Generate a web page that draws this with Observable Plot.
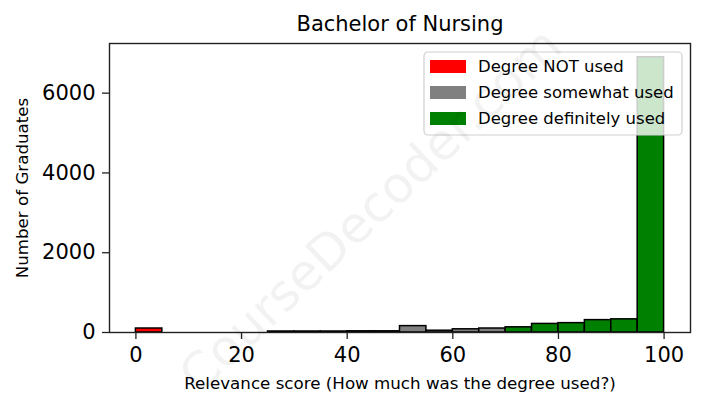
<!DOCTYPE html>
<html><head><meta charset="utf-8">
<script src="https://cdn.jsdelivr.net/npm/d3@7"></script>
<script src="https://cdn.jsdelivr.net/npm/@observablehq/plot@0.6"></script>
<style>body{margin:0;background:#fff} svg{font-family:"DejaVu Sans"}</style>
</head><body><div id="chart"></div>
<script>
const binStarts = [0,5,10,15,20,25,30,35,40,45,50,55,60,65,70,75,80,85,90,95];
const binWidth = 5;
const counts = [100,0,0,0,0,25,25,25,30,30,160,45,80,100,130,215,235,310,330,6900];
const binCategory = ["Degree NOT used","Degree NOT used","Degree NOT used","Degree NOT used","Degree NOT used",
  "Degree somewhat used","Degree somewhat used","Degree somewhat used","Degree somewhat used","Degree somewhat used",
  "Degree somewhat used","Degree somewhat used","Degree somewhat used","Degree somewhat used",
  "Degree definitely used","Degree definitely used","Degree definitely used","Degree definitely used","Degree definitely used","Degree definitely used"];
const seriesNames = ["Degree NOT used","Degree somewhat used","Degree definitely used"];
const seriesColors = ["#ff0000","#808080","#008000"];
const xTicks = [0,20,40,60,80,100];
const yTicks = [0,2000,4000,6000];
const titleText = "Bachelor of Nursing";
const xLabel = "Relevance score (How much was the degree used?)";
const yLabel = "Number of Graduates";
const watermark = "CourseDecoder.com";

const data = binStarts.map((s,i)=>({x1:s,x2:s+binWidth,y:counts[i],cat:binCategory[i]}));

const chart = Plot.plot({
  width:705, height:408,
  marginLeft:109, marginRight:15, marginTop:43, marginBottom:76,
  x:{domain:[-5,105]},
  y:{domain:[0,7245]},
  color:{domain:seriesNames, range:seriesColors},
  style:{fontFamily:"DejaVu Sans", color:"#000", background:"#fff", overflow:"visible"},
  marks:[
    Plot.rectY(data,{x1:"x1",x2:"x2",y1:0,y2:"y",fill:"cat",stroke:"black",strokeWidth:1.5}),
    Plot.frame({stroke:"#222", strokeWidth:1.4}),
    Plot.axisX({ticks:xTicks, tickSize:7, tickPadding:8, fontSize:21, label:null, stroke:"#222", strokeWidth:1.3, tickFormat:d=>String(d)}),
    Plot.axisY({ticks:yTicks, tickSize:7, tickPadding:7, fontSize:21, label:null, stroke:"#222", strokeWidth:1.3, tickFormat:d=>String(d)}),
    Plot.text([xLabel],{frameAnchor:"bottom", dy:51, fontSize:16.7, lineAnchor:"middle", textAnchor:"middle"}),
    Plot.text([yLabel],{frameAnchor:"left", dx:-87, rotate:-90, fontSize:16.7, lineAnchor:"middle", textAnchor:"middle"}),
    Plot.text([titleText],{frameAnchor:"top", dy:-19, fontSize:21, lineAnchor:"middle", textAnchor:"middle"})
  ]
});
document.getElementById("chart").appendChild(chart);

const svg = d3.select(chart);
// legend
const lg = svg.append("g").attr("transform","translate(424,52)").attr("text-anchor","start");
lg.append("rect").attr("width",258).attr("height",83).attr("rx",4)
  .attr("fill","white").attr("fill-opacity",0.8).attr("stroke","#d0d0d0").attr("stroke-width",1.2);
seriesNames.forEach((n,i)=>{
  const g = lg.append("g").attr("transform",`translate(0,${14.5+i*26})`);
  g.append("rect").attr("x",6).attr("y",-6.5).attr("width",36).attr("height",13).attr("fill",seriesColors[i]);
  g.append("text").attr("x",54).attr("y",0).attr("dy","0.35em").attr("font-size",16.5).attr("fill","#000").text(n);
});
// watermark
svg.append("text").attr("transform","translate(370,210) rotate(-43.5)")
  .attr("text-anchor","middle").attr("dy","0.35em").attr("font-size",50)
  .attr("fill","#000").attr("fill-opacity",0.05).text(watermark);
</script></body></html>
